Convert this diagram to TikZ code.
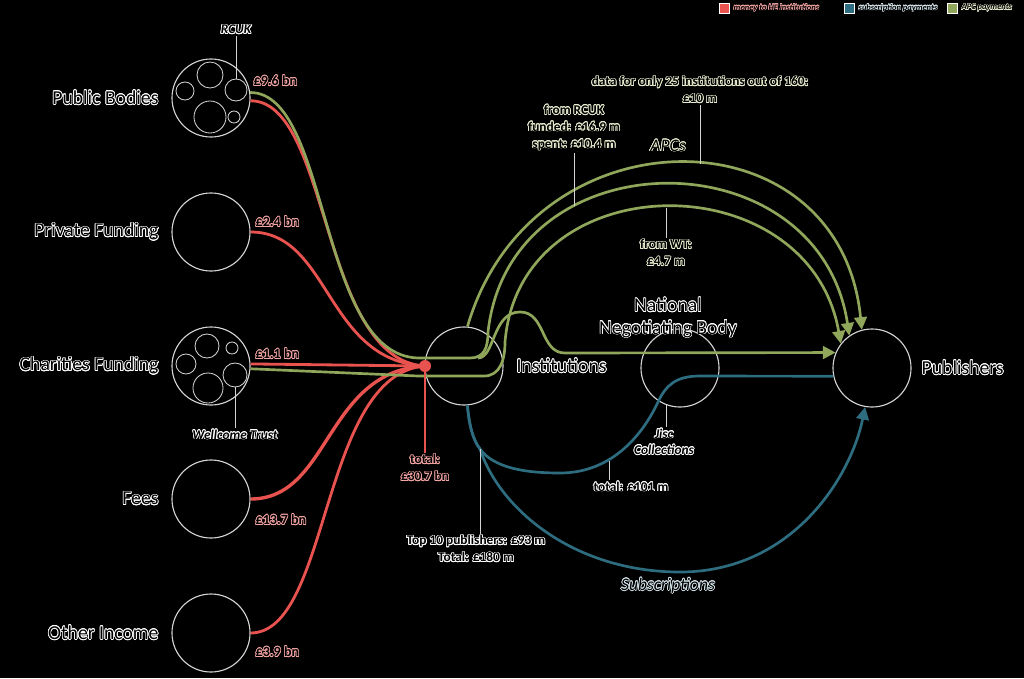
\documentclass[tikz,border=0pt]{standalone}
\usepackage{fontspec}
\setmainfont{Carlito}
\usepackage[copies]{contour}
\contourlength{0.5pt}
\usetikzlibrary{arrows.meta, positioning}

\definecolor{fundred}{HTML}{E8524F}
\definecolor{subteal}{HTML}{2E6D80}
\definecolor{apcgreen}{HTML}{8FA65B}
\definecolor{ringgray}{HTML}{D4D4D4}
\definecolor{halored}{HTML}{F4A6A4}
\definecolor{halogreen}{HTML}{E9EDCF}
\definecolor{haloteal}{HTML}{D6E6EC}

\newcommand{\outl}[2][white]{\contour{#1}{#2}}

\begin{document}
\begin{tikzpicture}[x=0.025cm, y=-0.025cm,
    src/.style={circle, draw=ringgray, line width=0.8pt, minimum size=1.95cm, inner sep=0pt},
    sub/.style={circle, draw=ringgray, line width=0.6pt, minimum size=#1, inner sep=0pt},
    hubdot/.style={circle, fill=fundred, minimum size=0.3cm, inner sep=0pt},
    srcname/.style={font=\fontsize{14}{16}\selectfont, text=black, inner sep=1pt},
    val/.style={font=\fontsize{10}{11}\selectfont\bfseries, text=black, inner sep=1pt},
    note/.style={font=\fontsize{9.5}{12}\selectfont\bfseries, text=black, align=center, inner sep=1pt},
    tag/.style={font=\fontsize{9.5}{11.5}\selectfont\bfseries\itshape, text=black, align=center, inner sep=1pt},
    flowtag/.style={font=\fontsize{12.5}{14}\selectfont\itshape, text=black, inner sep=1pt},
    redflow/.style={draw=fundred, line width=2pt},
    greenflow/.style={draw=apcgreen, line width=1.9pt, -{Triangle[length=9pt, width=9pt]}},
    tealflow/.style={draw=subteal, line width=1.9pt},
    ptr/.style={draw=ringgray, line width=0.6pt},
    keybox/.style={draw=white, line width=0.3pt, minimum size=0.25cm, inner sep=0pt},
    keytxt/.style={font=\fontsize{6}{7}\selectfont\bfseries\itshape, text=black, inner sep=1pt}]

    \fill[black] (0,0) rectangle (1024,678);
    \useasboundingbox (0,0) rectangle (1024,678);

    % ===== Legend =====
    \node[keybox, fill=fundred] (kred) at (724,8) {};
    \node[keytxt, right=2pt of kred] {{\contourlength{0.25pt}\outl[halored]{money to HE institutions}}};
    \node[keybox, fill=subteal] (kteal) at (849,8) {};
    \node[keytxt, right=2pt of kteal] {{\contourlength{0.25pt}\outl[haloteal]{subscription payments}}};
    \node[keybox, fill=apcgreen] (kgreen) at (952,8) {};
    \node[keytxt, right=2pt of kgreen] {{\contourlength{0.25pt}\outl[halogreen]{APC payments}}};

    % ===== Funding sources =====
    \node[src] (pub)   at (211,98)  {};
    \node[src] (priv)  at (211,232) {};
    \node[src] (char)  at (211,366) {};
    \node[src] (fees)  at (211,499) {};
    \node[src] (other) at (211,633) {};

    \node[srcname, left=8pt of pub]   {\outl{Public Bodies}};
    \node[srcname, left=8pt of priv]  {\outl{Private Funding}};
    \node[srcname, left=8pt of char]  {\outl{Charities Funding}};
    \node[srcname, left=8pt of fees]  {\outl{Fees}};
    \node[srcname, left=8pt of other] {\outl{Other Income}};

    \node[val, anchor=west] at (252,81)  {\outl[halored]{£9.6 bn}};
    \node[val, anchor=west] at (254,222) {\outl[halored]{£2.4 bn}};
    \node[val, anchor=west] at (254,354) {\outl[halored]{£1.1 bn}};
    \node[val, anchor=west] at (254,520) {\outl[halored]{£13.7 bn}};
    \node[val, anchor=west] at (254,652) {\outl[halored]{£3.9 bn}};

    % public bodies: research councils
    \node[sub=0.65cm] at (210,75)  {};
    \node[sub=0.45cm] at (185,91)  {};
    \node[sub=0.55cm] (rcukc) at (236,90) {};
    \node[sub=0.8cm]  at (210,117) {};
    \node[sub=0.3cm]  at (234,117) {};
    \node[tag] (rcuk) at (236,30) {\outl{RCUK}};
    \draw[ptr] (rcuk) -- (rcukc);

    % charities
    \node[sub=0.6cm]  at (207,346) {};
    \node[sub=0.3cm]  at (232,348) {};
    \node[sub=0.5cm]  at (186,364) {};
    \node[sub=0.75cm] at (208,388) {};
    \node[sub=0.6cm] (wtc) at (235,375) {};
    \node[tag] (wt) at (235,435) {\outl{Wellcome Trust}};
    \draw[ptr] (wtc) -- (wt);

    % ===== Institutions, NNB, Publishers =====
    \coordinate (hubc) at (425,366);
    \node[src] (inst) at (464,366) {};
    \node[src] (nnb)  at (680,368) {};
    \node[src] (publ) at (872,368) {};

    \node[srcname, right=8pt of inst] {\outl{Institutions}};
    \node[srcname, right=6pt of publ] {\outl{Publishers}};
    \node[srcname, align=center] at (668,318) {\outl{National}\\\outl{Negotiating Body}};

    % ===== Income to institutions =====
    \draw[redflow] (pub.-4) .. controls +(80,0) and +(-105,-6) .. (hubc);
    \draw[redflow] (priv.east) .. controls +(80,0) and +(-100,-5) .. (hubc);
    \draw[redflow] (char.3) -- (hubc);
    \draw[redflow, line width=2.4pt] (fees.east) .. controls +(80,0) and +(-100,5) .. (hubc);
    \draw[redflow] (other.east) .. controls +(80,0) and +(-105,8) .. (hubc);

    % ===== APC payments =====
    \draw[greenflow] (pub.8) .. controls +(80,0) and +(-100,-3) .. (418,358) -- (470,358)
        .. controls (484,358) and (488,348) .. (488,332)
        .. controls (510,135) and (819,135) .. (publ.125);
    \draw[greenflow] (char.-4) -- (418,376) -- (484,376)
        .. controls (500,376) and (505,360) .. (505,342)
        .. controls (520,162) and (809,162) .. (publ.142);
    \draw[greenflow] (inst.85) .. controls (531,108) and (840,108) .. (publ.105);
    \draw[greenflow] (478,358) .. controls (495,358) and (492,312) .. (520,312)
        .. controls (546,312) and (540,353) .. (565,353) -- (publ.157);

    % ===== Subscription payments =====
    \coordinate (split) at (480,449);
    \draw[tealflow] (inst.-85) .. controls (469,425) and (473,440) .. (split)
        .. controls (494,468) and (525,473) .. (560,473)
        .. controls (615,473) and (645,430) .. (658,402)
        .. controls (666,385) and (676,376) .. (700,376) -- (publ.192);
    \draw[tealflow, -{Triangle[length=9pt, width=9pt]}] (inst.-85)
        .. controls (469,425) and (473,440) .. (split)
        .. controls (500,510) and (575,572) .. (680,572)
        .. controls (790,572) and (850,480) .. (publ.-100);

    \node[hubdot] (hub) at (hubc) {};

    % ===== Annotations =====
    \node[note] (total) at (425,468) {\outl[halored]{total:}\\\outl[halored]{£30.7 bn}};
    \draw[draw=fundred, line width=0.8pt] (hub) -- (total);

    \node[note] (d25) at (700,90) {\outl[halogreen]{data for only 25 institutions out of 160:}\\\outl[halogreen]{£10 m}};
    \coordinate (d25p) at (700,164);
    \draw[ptr] (d25) -- (d25p);

    \node[note] (frcuk) at (574,128) {\outl[halogreen]{from RCUK}\\\outl[halogreen]{funded: £16.9 m}\\\outl[halogreen]{spent: £10.4 m}};
    \coordinate (frcukp) at (574,206);
    \draw[ptr] (frcuk) -- (frcukp);

    \node[note] (fwt) at (666,253) {\outl[halogreen]{from WT:}\\\outl[halogreen]{£4.7 m}};
    \coordinate (fwtp) at (666,208);
    \draw[ptr] (fwtp) -- (fwt);

    \node[flowtag] (apcs) at (668,146) {\outl[halogreen]{APCs}};

    \node[tag] (jisc) at (664,442) {\outl{Jisc}\\\outl{Collections}};
    \draw[ptr] (nnb.-110) -- (nnb.-110 |- jisc.north);

    \node[note] (t101) at (631,487) {\outl{total: £101 m}};
    \coordinate (t101p) at (609,461);
    \draw[ptr] (t101p) -- (t101p |- t101.north);

    \node[note] (top10) at (476,549) {\outl{Top 10 publishers: £93 m}\\\outl{Total: £180 m}};
    \draw[ptr] (split) -- (split |- top10.north);

    \node[flowtag] (subs) at (668,586) {\outl[haloteal]{Subscriptions}};

\end{tikzpicture}
\end{document}
